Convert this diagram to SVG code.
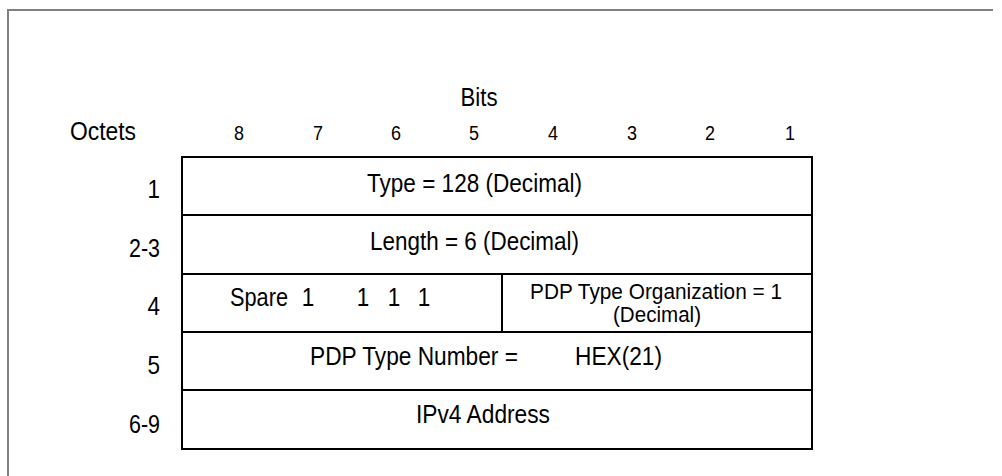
<svg xmlns="http://www.w3.org/2000/svg" width="1002" height="476" viewBox="0 0 1002 476">
<style>
text{font-family:"Liberation Sans",Arial,sans-serif;fill:#000}
.l{font-size:25px}
.n{font-size:20px}
.s{font-size:22px}
.box{fill:none;stroke:#000;stroke-width:2}
</style>
<rect x="0" y="0" width="1002" height="476" fill="#fff"/>
<g id="frame"><path d="M8 476 V10 H993" fill="none" stroke="#808080" stroke-width="2"/></g>
<g id="header">
<text class="l" x="460.5" y="106" textLength="37" lengthAdjust="spacingAndGlyphs">Bits</text>
<text class="l" x="70" y="140" textLength="66" lengthAdjust="spacingAndGlyphs">Octets</text>
<text class="n" x="234" y="139.5" textLength="10" lengthAdjust="spacingAndGlyphs">8</text>
<text class="n" x="313" y="139.5" textLength="10" lengthAdjust="spacingAndGlyphs">7</text>
<text class="n" x="391" y="139.5" textLength="10" lengthAdjust="spacingAndGlyphs">6</text>
<text class="n" x="469" y="139.5" textLength="10" lengthAdjust="spacingAndGlyphs">5</text>
<text class="n" x="548" y="139.5" textLength="10" lengthAdjust="spacingAndGlyphs">4</text>
<text class="n" x="627" y="139.5" textLength="10" lengthAdjust="spacingAndGlyphs">3</text>
<text class="n" x="705" y="139.5" textLength="10" lengthAdjust="spacingAndGlyphs">2</text>
<text class="n" x="785" y="139.5" textLength="10" lengthAdjust="spacingAndGlyphs">1</text>
</g>
<g id="octets">
<text class="l" x="147.5" y="198" textLength="12.5" lengthAdjust="spacingAndGlyphs">1</text>
<text class="l" x="129" y="256.5" textLength="31" lengthAdjust="spacingAndGlyphs">2-3</text>
<text class="l" x="147.5" y="315" textLength="12.5" lengthAdjust="spacingAndGlyphs">4</text>
<text class="l" x="147.5" y="374" textLength="12.5" lengthAdjust="spacingAndGlyphs">5</text>
<text class="l" x="129" y="433" textLength="31" lengthAdjust="spacingAndGlyphs">6-9</text>
</g>
<g id="row1"><rect class="box" x="182" y="157" width="630" height="58"/>
<text class="l" x="367" y="192" textLength="215" lengthAdjust="spacingAndGlyphs">Type = 128 (Decimal)</text></g>
<g id="row2"><rect class="box" x="182" y="215" width="630" height="59"/>
<text class="l" x="370" y="250" textLength="209" lengthAdjust="spacingAndGlyphs">Length = 6 (Decimal)</text></g>
<g id="row4a"><rect class="box" x="182" y="274" width="320" height="58"/>
<text class="l" x="230" y="305.5" textLength="58" lengthAdjust="spacingAndGlyphs">Spare</text>
<text class="l" x="301.75" y="305.5" textLength="12.5" lengthAdjust="spacingAndGlyphs">1</text>
<text class="l" x="356.75" y="305.5" textLength="12.5" lengthAdjust="spacingAndGlyphs">1</text>
<text class="l" x="387.75" y="305.5" textLength="12.5" lengthAdjust="spacingAndGlyphs">1</text>
<text class="l" x="417.75" y="305.5" textLength="12.5" lengthAdjust="spacingAndGlyphs">1</text></g>
<g id="row4b"><rect class="box" x="502" y="274" width="310" height="58"/>
<text class="s" x="530" y="299" textLength="252" lengthAdjust="spacingAndGlyphs">PDP Type Organization = 1</text>
<text class="s" x="613" y="322" textLength="88" lengthAdjust="spacingAndGlyphs">(Decimal)</text></g>
<g id="row5"><rect class="box" x="182" y="332" width="630" height="58"/>
<text class="l" x="310" y="365" textLength="208" lengthAdjust="spacingAndGlyphs">PDP Type Number =</text>
<text class="l" x="575" y="365" textLength="87" lengthAdjust="spacingAndGlyphs">HEX(21)</text></g>
<g id="row6"><rect class="box" x="182" y="390" width="630" height="59"/>
<text class="l" x="416" y="423" textLength="134" lengthAdjust="spacingAndGlyphs">IPv4 Address</text></g>
</svg>
